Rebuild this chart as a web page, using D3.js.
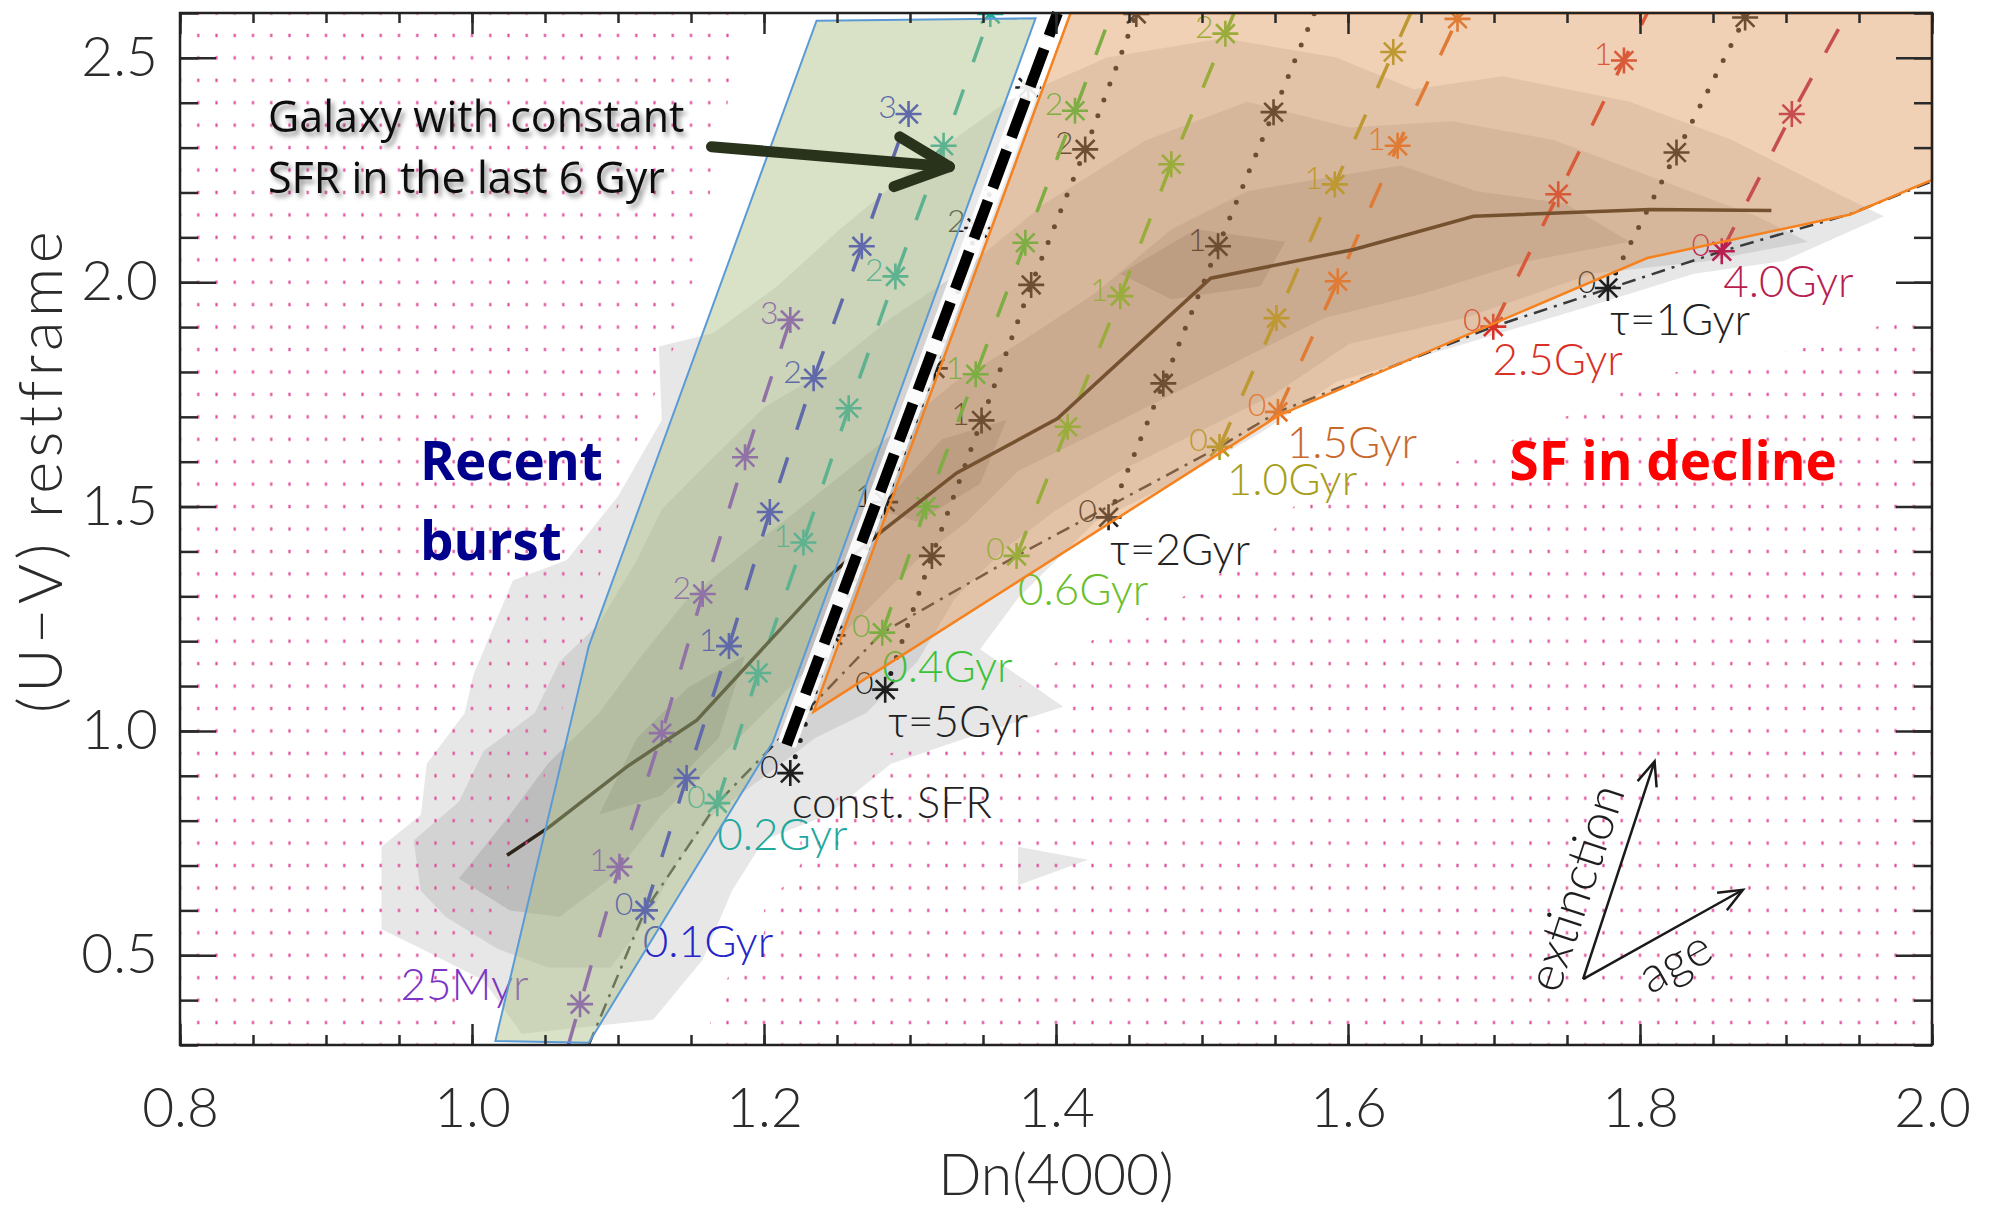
<!DOCTYPE html>
<html>
<head>
<meta charset="utf-8">
<script src="https://cdn.jsdelivr.net/npm/d3@7"></script>
<style>
  body { margin: 0; background: #fff; }
  svg { display: block; }
  .idl { font-family: Lato, "Liberation Sans", sans-serif; font-weight: 300; }
  .ppt { font-family: "Open Sans", Lato, sans-serif; }
</style>
</head>
<body>
<svg id="chart" width="1996" height="1207"></svg>
<script>
/* global d3 */
var xDomain = [0.8, 2.0];
var yDomain = [0.3, 2.6];
var xTickValues = [0.8, 1.0, 1.2, 1.4, 1.6, 1.8, 2.0];
var yTickValues = [0.5, 1.0, 1.5, 2.0, 2.5];

// grey galaxy density contours, lightest to darkest
var contourOuter = [[0.938,0.558],[0.938,0.742],[0.965,0.813],[0.969,0.927],[0.995,1.040],[1.001,1.125],[1.028,1.335],
  [1.065,1.381],[1.100,1.523],[1.130,1.693],[1.128,1.857],[1.165,1.886],[1.209,1.991],[1.252,2.118],[1.305,2.260],
  [1.366,2.402],[1.435,2.501],[1.514,2.544],[1.592,2.501],[1.645,2.430],[1.706,2.459],[1.793,2.402],[1.863,2.317],
  [1.932,2.203],[1.967,2.147],[1.898,2.047],[1.837,2.019],[1.767,1.948],[1.680,1.863],[1.592,1.778],[1.540,1.664],
  [1.479,1.551],[1.427,1.466],[1.374,1.296],[1.348,1.182],[1.405,1.054],[1.339,0.984],[1.287,0.927],[1.244,0.813],
  [1.200,0.757],[1.178,0.643],[1.158,0.490],[1.124,0.356],[1.034,0.325],[1.008,0.444],[0.965,0.515]];
var contourMid = [[0.965,0.643],[0.960,0.756],[0.991,0.842],[1.008,0.955],[1.043,1.040],[1.060,1.154],[1.087,1.239],
  [1.113,1.381],[1.130,1.494],[1.165,1.608],[1.200,1.721],[1.244,1.806],[1.287,1.920],[1.339,2.033],[1.392,2.175],
  [1.462,2.317],[1.531,2.402],[1.601,2.345],[1.671,2.359],[1.741,2.317],[1.810,2.232],[1.880,2.147],[1.915,2.090],
  [1.845,2.047],[1.767,2.019],[1.680,1.920],[1.601,1.863],[1.549,1.749],[1.496,1.664],[1.444,1.579],[1.401,1.494],
  [1.366,1.409],[1.331,1.296],[1.305,1.154],[1.270,1.040],[1.235,0.984],[1.200,0.898],[1.165,0.813],[1.139,0.700],
  [1.121,0.586],[1.095,0.473],[1.052,0.473],[1.017,0.515],[0.982,0.586]];
var contourInner = [[0.991,0.671],[1.026,0.813],[1.052,0.927],[1.087,1.040],[1.113,1.154],[1.148,1.296],[1.191,1.409],
  [1.235,1.523],[1.278,1.636],[1.331,1.778],[1.374,1.863],[1.427,1.976],[1.479,2.118],[1.531,2.203],[1.584,2.232],
  [1.636,2.260],[1.688,2.203],[1.749,2.175],[1.793,2.090],[1.723,2.047],[1.653,1.976],[1.584,1.920],[1.531,1.835],
  [1.479,1.749],[1.427,1.664],[1.374,1.579],[1.339,1.466],[1.305,1.381],[1.270,1.267],[1.235,1.154],[1.200,1.040],
  [1.165,0.927],[1.130,0.813],[1.095,0.671],[1.060,0.586],[1.026,0.600]];
var contourCoreA = [[1.087,0.813],[1.113,0.984],[1.148,1.097],[1.187,1.168],[1.169,0.984],[1.130,0.856]];
var contourCoreB = [[1.444,2.019],[1.496,2.118],[1.557,2.090],[1.540,1.991],[1.479,1.962]];
var contourCoreC = [[1.278,1.494],[1.322,1.650],[1.366,1.693],[1.348,1.551],[1.305,1.466]];
var contourSpeck = [[1.374,0.742],[1.422,0.713],[1.374,0.656]];

// area around the models where the dotted background is blank
var blankRegion = [[1.188,2.6],[1.175,2.399],[1.163,2.199],[1.151,2.000],[1.138,1.853],[1.125,1.749],[1.113,1.648],
  [1.100,1.499],[1.088,1.352],[1.075,1.198],[1.062,1.051],[1.050,0.902],[1.038,0.750],[1.025,0.650],[1.012,0.512],
  [1.000,0.450],[0.990,0.3],[1.163,0.3],[1.163,0.349],[1.175,0.449],[1.200,0.549],[1.200,0.601],[1.212,0.649],
  [1.225,0.701],[1.225,0.800],[1.250,0.850],[1.275,0.902],[1.286,0.950],[1.387,1.002],[1.412,1.050],[1.375,1.099],
  [1.399,1.151],[1.423,1.199],[1.462,1.251],[1.487,1.299],[1.512,1.351],[1.549,1.400],[1.549,1.448],[1.563,1.500],
  [1.585,1.552],[1.673,1.599],[1.712,1.648],[1.749,1.700],[1.786,1.752],[1.825,1.800],[1.912,1.853],[1.962,1.901],
  [2.0,1.940],[2.0,2.6]];

// highlighted regions
var recentBurstBox = [[1.016,0.309],[1.080,1.189],[1.236,2.583],[1.386,2.588],[1.206,0.975],[1.080,0.305]];
var sfDeclineBox = [[1.234,1.043],[1.410,2.6],[2.0,2.6],[2.0,2.228],[1.944,2.151],[1.805,2.054],[1.553,1.704]];
var constSfr6Gyr = [[1.2155,0.969],[1.401,2.6]];

// median colour of the sample
var medianUV = [[1.024,0.723],[1.053,0.786],[1.106,0.920],[1.154,1.024],[1.245,1.346],[1.280,1.443],[1.332,1.575],
  [1.401,1.696],[1.506,2.009],[1.604,2.073],[1.686,2.147],[1.807,2.162],[1.890,2.160]];
// dust-free model sequence (dash-dot)
var dustFreeSeq = [[1.080,0.300],[1.1185,0.600],[1.168,0.839],[1.281,1.219],[1.373,1.390],[1.512,1.633],
  [1.552,1.711],[1.6995,1.901],[1.856,2.069],[1.944,2.152],[2.0,2.225]];

// burst models: points along the extinction direction
var track25Myr = [[1.074,0.391],[1.101,0.697],[1.130,0.995],[1.158,1.305],[1.187,1.610],[1.218,1.916]];
var steps25Myr = ["", "1", "", "2", "", "3"];
var track100Myr = [[1.1185,0.600],[1.147,0.895],[1.176,1.189],[1.204,1.488],[1.234,1.786],[1.267,2.080],[1.299,2.375]];
var steps100Myr = ["0", "", "1", "", "2", "", "3"];
var track200Myr = [[1.168,0.839],[1.196,1.129],[1.227,1.420],[1.258,1.719],[1.290,2.013],[1.323,2.304],[1.355,2.598]];
var steps200Myr = ["0", "", "1", "", "2", "", ""];
var track400Myr = [[1.281,1.219],[1.311,1.500],[1.345,1.795],[1.379,2.088],[1.413,2.382]];
var steps400Myr = ["0", "", "1", "", "2"];
var track600Myr = [[1.373,1.390],[1.408,1.678],[1.444,1.969],[1.479,2.263],[1.516,2.554]];
var steps600Myr = ["0", "", "1", "", "2"];
var track1Gyr = [[1.512,1.633],[1.551,1.920],[1.591,2.218],[1.631,2.513]];
var steps1Gyr = ["0", "", "1", ""];
var track1p5Gyr = [[1.552,1.711],[1.593,2.002],[1.634,2.304],[1.675,2.587]];
var steps1p5Gyr = ["0", "", "1", ""];
var track2p5Gyr = [[1.6995,1.901],[1.744,2.196],[1.789,2.494]];
var steps2p5Gyr = ["0", "", "1"];
var track4Gyr = [[1.856,2.069],[1.904,2.375]];
var steps4Gyr = ["0", ""];

// exponentially declining / constant SFR models
var trackConst = [[1.218,0.906],[1.247,1.213],[1.283,1.510],[1.317,1.808],[1.346,2.121],[1.381,2.434]];
var stepsConst = ["0", "", "1", "", "2", ""];
var trackTau5 = [[1.283,1.092],[1.315,1.390],[1.349,1.692],[1.383,1.994],[1.420,2.296],[1.455,2.598]];
var stepsTau5 = ["0", "", "1", "", "2", ""];
var trackTau2 = [[1.436,1.476],[1.4735,1.7745],[1.511,2.080],[1.549,2.379]];
var stepsTau2 = ["0", "", "1", ""];
var trackTau1 = [[1.778,1.987],[1.825,2.289],[1.872,2.590]];
var stepsTau1 = ["0", "", ""];

var seqNames = ["25Myr", "0.1Gyr", "0.2Gyr", "const. SFR", "0.4Gyr", "\u03c4=5Gyr", "0.6Gyr", "\u03c4=2Gyr",
  "1.0Gyr", "1.5Gyr", "2.5Gyr", "\u03c4=1Gyr", "4.0Gyr"];
var seqNameX = [0.951, 1.117, 1.168, 1.219, 1.281, 1.285, 1.374, 1.437, 1.517, 1.558, 1.699, 1.7795, 1.857];
var seqNameY = [0.400, 0.496, 0.735, 0.806, 1.109, 0.987, 1.281, 1.370, 1.526, 1.608, 1.793, 1.882, 1.967];
var seqColors = ["#7b34c4", "#2424c8", "#1fa89c", "#222222", "#3cc23a", "#222222", "#6cbf2c", "#222222",
  "#a99e1c", "#c8682a", "#d83228", "#222222", "#b81e50"];

// annotations
var arrowShaft = [[1.164,2.302],[1.327,2.2575]];
var arrowHead = [[1.293,2.324],[1.327,2.2575],[1.289,2.213]];
var vecOrigin = [1.761, 0.447];
var vecExtinction = [1.810, 0.932];
var vecAge = [1.8705, 0.646];

var burstTracks = [
  {pts: track25Myr, steps: steps25Myr, color: seqColors[0], from: [1.066, 0.30], to: null},
  {pts: track100Myr, steps: steps100Myr, color: seqColors[1], from: null, to: null},
  {pts: track200Myr, steps: steps200Myr, color: seqColors[2], from: null, to: null},
  {pts: track400Myr, steps: steps400Myr, color: seqColors[4], from: null, to: [1.438, 2.6]},
  {pts: track600Myr, steps: steps600Myr, color: seqColors[6], from: null, to: [1.522, 2.6]},
  {pts: track1Gyr, steps: steps1Gyr, color: seqColors[8], from: null, to: [1.643, 2.6]},
  {pts: track1p5Gyr, steps: steps1p5Gyr, color: "#e46c22", from: null, to: [1.677, 2.6]},
  {pts: track2p5Gyr, steps: steps2p5Gyr, color: seqColors[10], from: null, to: [1.805, 2.6]},
  {pts: track4Gyr, steps: steps4Gyr, color: seqColors[12], from: null, to: [1.942, 2.6]}
];
var tauTracks = [
  {pts: trackConst, steps: stepsConst, color: "#1e1e1e", from: null, to: [1.399, 2.6]},
  {pts: trackTau5, steps: stepsTau5, color: "#1e1e1e", from: null, to: null},
  {pts: trackTau2, steps: stepsTau2, color: "#1e1e1e", from: null, to: [1.577, 2.6]},
  {pts: trackTau1, steps: stepsTau1, color: "#1e1e1e", from: null, to: null}
];

var plotL = 180, plotR = 1932, plotT = 13, plotB = 1045;
var x = d3.scaleLinear().domain(xDomain).range([plotL, plotR]);
var y = d3.scaleLinear().domain(yDomain).range([plotB, plotT]);
var line = d3.line().x(function (d) { return x(d[0]); }).y(function (d) { return y(d[1]); });
var poly = function (pts) { return line(pts) + "Z"; };

var svg = d3.select("#chart");
var defs = svg.append("defs");

defs.append("clipPath").attr("id", "plotClip")
    .append("rect").attr("x", plotL).attr("y", plotT).attr("width", plotR - plotL).attr("height", plotB - plotT);

// dotted background only outside the blank region
defs.append("clipPath").attr("id", "dotClip")
    .append("path")
    .attr("clip-rule", "evenodd")
    .attr("d", "M" + plotL + "," + plotT + "H" + plotR + "V" + plotB + "H" + plotL + "Z" + poly(blankRegion));

var cellW = x(0.8125) - x(0.8), cellH = y(0.3) - y(0.35);
var pat = defs.append("pattern").attr("id", "dots").attr("patternUnits", "userSpaceOnUse")
    .attr("x", x(0.8) - cellW / 2).attr("y", y(2.6) - cellH / 2)
    .attr("width", cellW).attr("height", cellH);
pat.append("rect").attr("x", cellW / 2 - 1.1).attr("y", cellH / 2 - 1.7)
    .attr("width", 2.2).attr("height", 3.4).attr("fill", "#e0509a");

var shadow = defs.append("filter").attr("id", "shadow")
    .attr("x", "-10%").attr("y", "-40%").attr("width", "130%").attr("height", "190%");
shadow.append("feDropShadow").attr("dx", 3).attr("dy", 4).attr("stdDeviation", 2.5)
    .attr("flood-color", "#000").attr("flood-opacity", 0.45);

defs.append("marker").attr("id", "vhead").attr("markerUnits", "userSpaceOnUse")
    .attr("viewBox", "-28 -14 32 28").attr("refX", 0).attr("refY", 0)
    .attr("markerWidth", 32).attr("markerHeight", 28).attr("orient", "auto")
    .append("path").attr("d", "M-24,-10L0,0L-24,10")
    .attr("fill", "none").attr("stroke", "#1a1a1a").attr("stroke-width", 2.5);

// contours
var contourLevels = [
  {pts: contourOuter, fill: "#e7e7e7"},
  {pts: contourSpeck, fill: "#e7e7e7"},
  {pts: contourMid, fill: "#d3d3d3"},
  {pts: contourInner, fill: "#bdbdbd"},
  {pts: contourCoreA, fill: "#a7a7a7"},
  {pts: contourCoreB, fill: "#a7a7a7"},
  {pts: contourCoreC, fill: "#a7a7a7"}
];
var gPlot = svg.append("g").attr("clip-path", "url(#plotClip)");
gPlot.selectAll("path.contour")
    .data(contourLevels)
    .enter()
    .append("path")
    .attr("class", "contour")
    .attr("d", function (d) { return poly(d.pts); })
    .attr("fill", function (d) { return d.fill; });

svg.append("rect").attr("clip-path", "url(#dotClip)")
    .attr("x", plotL).attr("y", plotT).attr("width", plotR - plotL).attr("height", plotB - plotT)
    .attr("fill", "url(#dots)");

// model tracks
var asterisk = function (r) {
    var a = r * 0.72;
    return "M" + (-r) + ",0L" + r + ",0M0," + (-r) + "L0," + r +
        "M" + (-a) + "," + (-a) + "L" + a + "," + a + "M" + (-a) + "," + a + "L" + a + "," + (-a);
};
var trackLine = function (t) {
    var pts = t.pts.slice();
    if (t.from) { pts.unshift(t.from); }
    if (t.to) { pts.push(t.to); }
    return pts;
};

gPlot.append("path").attr("d", line(dustFreeSeq))
    .attr("fill", "none").attr("stroke", "#3a3a3a").attr("stroke-width", 2.5)
    .attr("stroke-dasharray", "14,7,3,7");

var drawTracks = function (tracks, dash, width, cap) {
    var g = gPlot.append("g");
    g.selectAll("path.track")
        .data(tracks)
        .enter()
        .append("path")
        .attr("class", "track")
        .attr("d", function (d) { return line(trackLine(d)); })
        .attr("fill", "none")
        .attr("stroke", function (d) { return d.color; })
        .attr("stroke-width", width)
        .attr("stroke-linecap", cap)
        .attr("stroke-dasharray", dash);
    tracks.forEach(function (t) {
        g.selectAll(null)
            .data(t.pts)
            .enter()
            .append("path")
            .attr("transform", function (d) { return "translate(" + x(d[0]) + "," + y(d[1]) + ")"; })
            .attr("d", asterisk(13))
            .attr("stroke", t.color)
            .attr("stroke-width", 2.6)
            .attr("fill", "none");
        g.selectAll(null)
            .data(t.pts.filter(function (d, i) { return t.steps[i] !== ""; }))
            .enter()
            .append("text")
            .attr("class", "idl")
            .attr("x", function (d) { return x(d[0]) - 21; })
            .attr("y", function (d) { return y(d[1]) - 8; })
            .attr("text-anchor", "middle")
            .attr("dominant-baseline", "central")
            .attr("font-size", 32)
            .attr("fill", t.color)
            .text(function (d) { return t.steps[t.pts.indexOf(d)]; });
    });
};
drawTracks(tauTracks, "0,17", 5, "round");
drawTracks(burstTracks, "27,29", 3.5, "butt");

gPlot.append("path").attr("d", line(medianUV))
    .attr("fill", "none").attr("stroke", "#2e2418").attr("stroke-width", 3.5);

// sequence names
svg.append("g").selectAll("text")
    .data(seqNames)
    .enter()
    .append("text")
    .attr("class", "idl")
    .attr("x", function (d, i) { return x(seqNameX[i]); })
    .attr("y", function (d, i) { return y(seqNameY[i]); })
    .attr("font-size", 44)
    .attr("fill", function (d, i) { return seqColors[i]; })
    .text(function (d) { return d; });

// shaded regions
svg.append("path").attr("d", poly(recentBurstBox))
    .attr("fill", "rgb(170,190,130)").attr("fill-opacity", 0.45)
    .attr("stroke", "#5b9bd5").attr("stroke-width", 2);
svg.append("path").attr("d", poly(sfDeclineBox))
    .attr("fill", "rgb(220,145,80)").attr("fill-opacity", 0.42)
    .attr("stroke", "#f5821f").attr("stroke-width", 2.5);

svg.append("path").attr("d", line(constSfr6Gyr))
    .attr("stroke", "#fff").attr("stroke-width", 19).attr("stroke-opacity", 0.9);
svg.append("path").attr("d", line(constSfr6Gyr))
    .attr("stroke", "#000").attr("stroke-width", 11).attr("stroke-dasharray", "40,14");

// axes
var xMinor = d3.range(0.8, 2.0001, 0.05);
var yMinor = d3.range(0.3, 2.6001, 0.1);
var fmt = d3.format(".1f");
var styleAxis = function (g) {
    g.select(".domain").remove();
    g.selectAll(".tick line").attr("stroke", "#2a2a2a").attr("stroke-width", 2.5);
    g.selectAll(".tick text").attr("class", "idl").attr("font-size", 55).attr("fill", "#2b2b2b");
};
svg.append("g").attr("transform", "translate(0," + plotB + ")")
    .call(d3.axisBottom(x).tickValues(xMinor).tickSize(-10).tickFormat("")).call(styleAxis);
svg.append("g").attr("transform", "translate(0," + plotB + ")")
    .call(d3.axisBottom(x).tickValues(xTickValues).tickSize(-21).tickPadding(43).tickFormat(fmt))
    .call(styleAxis);
svg.append("g").attr("transform", "translate(0," + plotT + ")")
    .call(d3.axisTop(x).tickValues(xMinor).tickSize(-10).tickFormat("")).call(styleAxis);
svg.append("g").attr("transform", "translate(0," + plotT + ")")
    .call(d3.axisTop(x).tickValues(xTickValues).tickSize(-21).tickFormat("")).call(styleAxis);
svg.append("g").attr("transform", "translate(" + plotL + ",0)")
    .call(d3.axisLeft(y).tickValues(yMinor).tickSize(-18).tickFormat("")).call(styleAxis);
svg.append("g").attr("transform", "translate(" + plotL + ",0)")
    .call(d3.axisLeft(y).tickValues(yTickValues).tickSize(-36).tickPadding(22).tickFormat(fmt))
    .call(styleAxis);
svg.append("g").attr("transform", "translate(" + plotR + ",0)")
    .call(d3.axisRight(y).tickValues(yMinor).tickSize(-18).tickFormat("")).call(styleAxis);
svg.append("g").attr("transform", "translate(" + plotR + ",0)")
    .call(d3.axisRight(y).tickValues(yTickValues).tickSize(-36).tickFormat("")).call(styleAxis);
svg.append("rect").attr("x", plotL).attr("y", plotT).attr("width", plotR - plotL).attr("height", plotB - plotT)
    .attr("fill", "none").attr("stroke", "#222").attr("stroke-width", 2.5);

svg.append("text").attr("class", "idl").attr("x", (plotL + plotR) / 2).attr("y", 1195)
    .attr("text-anchor", "middle").attr("font-size", 57).attr("fill", "#2b2b2b").text("Dn(4000)");
svg.append("text").attr("class", "idl").attr("transform", "translate(62,470) rotate(-90)")
    .attr("text-anchor", "middle").attr("font-size", 61).attr("letter-spacing", 4.5).attr("fill", "#2b2b2b")
    .text("(U\u2212V) restframe");

// extinction / age vectors
[vecExtinction, vecAge].forEach(function (v) {
    svg.append("line")
        .attr("x1", x(vecOrigin[0])).attr("y1", y(vecOrigin[1]))
        .attr("x2", x(v[0])).attr("y2", y(v[1]))
        .attr("stroke", "#1a1a1a").attr("stroke-width", 2.5).attr("marker-end", "url(#vhead)");
});
var angleOf = function (v) {
    return Math.atan2(y(v[1]) - y(vecOrigin[1]), x(v[0]) - x(vecOrigin[0])) * 180 / Math.PI;
};
svg.append("text").attr("class", "idl")
    .attr("transform", "translate(" + x(1.7547) + "," + y(0.652) + ") rotate(" + angleOf(vecExtinction) + ")")
    .attr("text-anchor", "middle").attr("dominant-baseline", "central")
    .attr("font-size", 50).attr("fill", "#1e1e1e").text("extinction");
svg.append("text").attr("class", "idl")
    .attr("transform", "translate(" + x(1.8232) + "," + y(0.490) + ") rotate(" + angleOf(vecAge) + ")")
    .attr("text-anchor", "middle").attr("dominant-baseline", "central")
    .attr("font-size", 50).attr("fill", "#1e1e1e").text("age");

// callout
var callout = svg.append("g").attr("class", "ppt").attr("filter", "url(#shadow)")
    .attr("font-size", 43).attr("fill", "#111");
callout.append("text").attr("x", x(0.8603)).attr("y", y(2.3355)).text("Galaxy with constant");
callout.append("text").attr("x", x(0.8603)).attr("y", y(2.1995)).text("SFR in the last 6 Gyr");
svg.append("path").attr("d", line(arrowShaft)).attr("stroke", "#29321a").attr("stroke-width", 11)
    .attr("stroke-linecap", "round");
svg.append("path").attr("d", line(arrowHead)).attr("fill", "none").attr("stroke", "#29321a")
    .attr("stroke-width", 11).attr("stroke-linecap", "round").attr("stroke-linejoin", "round");

svg.append("text").attr("class", "ppt").attr("font-weight", 700).attr("font-size", 53).attr("fill", "#00008c")
    .attr("x", x(0.9644)).attr("y", y(1.5592)).text("Recent");
svg.append("text").attr("class", "ppt").attr("font-weight", 700).attr("font-size", 53).attr("fill", "#00008c")
    .attr("x", x(0.9644)).attr("y", y(1.3809)).text("burst");
svg.append("text").attr("class", "ppt").attr("font-weight", 700).attr("font-size", 53).attr("fill", "#ff0000")
    .attr("x", x(1.7106)).attr("y", y(1.5592)).text("SF in decline");
</script>
</body>
</html>
